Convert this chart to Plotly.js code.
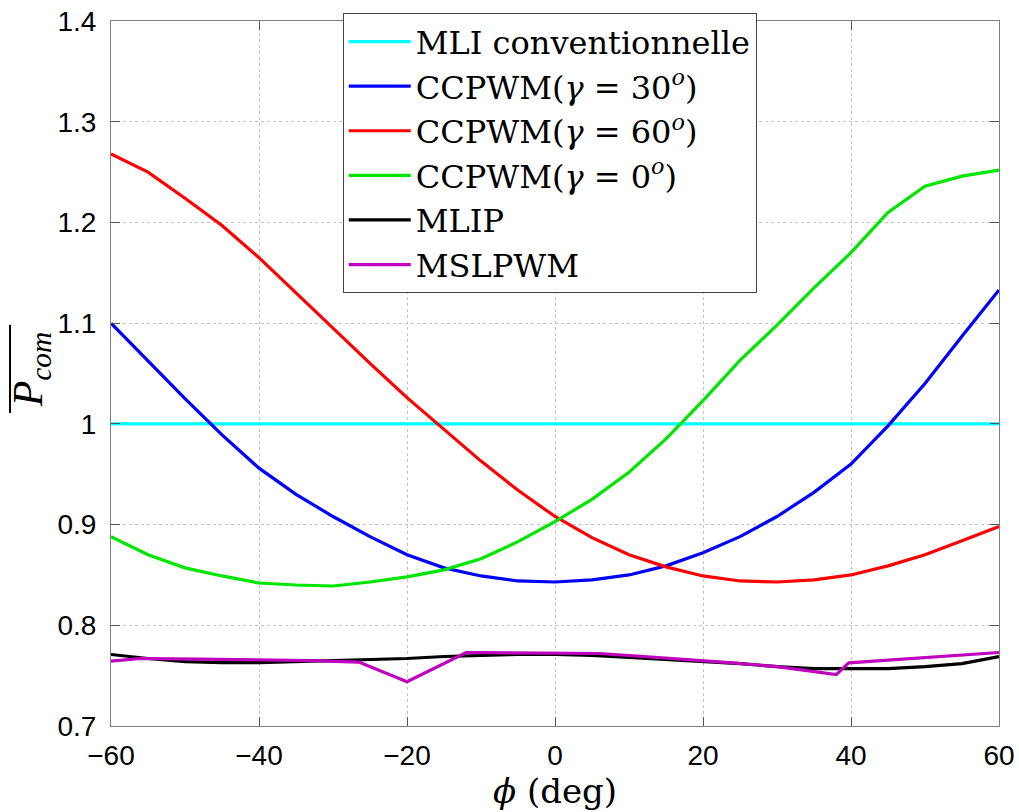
<!DOCTYPE html>
<html>
<head>
<meta charset="utf-8">
<script src="https://cdn.plot.ly/plotly-3.0.1.min.js"></script>
<style>html,body{margin:0;padding:0;background:#fff}#chart{width:1019px;height:812px}</style>
</head>
<body>
<div id="chart"></div>
<script>
// phi (deg) sample grid for smooth curves
const phi = [-60,-55,-50,-45,-40,-35,-30,-25,-20,-15,-10,-5,0,5,10,15,20,25,30,35,40,45,50,55,60];
const mliConv = [1,1,1,1,1,1,1,1,1,1,1,1,1,1,1,1,1,1,1,1,1,1,1,1,1];
const ccpwm30 = [1.100,1.062,1.025,0.989,0.956,0.930,0.908,0.888,0.870,0.857,0.849,0.844,0.843,0.845,0.850,0.859,0.872,0.888,0.908,0.932,0.960,0.998,1.040,1.087,1.133];
const ccpwm60 = [1.268,1.250,1.224,1.197,1.165,1.130,1.094,1.060,1.026,0.994,0.963,0.934,0.908,0.887,0.870,0.858,0.849,0.844,0.843,0.845,0.850,0.859,0.870,0.884,0.898];
const ccpwm0  = [0.888,0.870,0.857,0.849,0.842,0.840,0.839,0.843,0.848,0.855,0.866,0.883,0.903,0.925,0.952,0.985,1.023,1.063,1.098,1.135,1.170,1.210,1.236,1.246,1.252];
const mlip    = [0.771,0.767,0.764,0.763,0.763,0.764,0.765,0.766,0.767,0.769,0.770,0.771,0.771,0.770,0.768,0.766,0.764,0.762,0.759,0.757,0.757,0.757,0.759,0.762,0.769];
// MSLPWM sampled on its own grid
const phiMsl  = [-60,-56,-48,-40,-33,-26.5,-20,-12,-6,0,6,12,18,24,30,38,39.7,46,53,60];
const mslpwm  = [0.7645,0.767,0.7665,0.766,0.765,0.7635,0.744,0.773,0.7728,0.7725,0.772,0.769,0.766,0.7627,0.759,0.751,0.7627,0.766,0.769,0.773];

const names = ['MLI conventionnelle','CCPWM(<i>γ</i> = 30<sup><i>o</i></sup>)','CCPWM(<i>γ</i> = 60<sup><i>o</i></sup>)','CCPWM(<i>γ</i> = 0<sup><i>o</i></sup>)','MLIP','MSLPWM'];
const colors = ['#00ffff','#0000ff','#ff0000','#00e600','#000000','#bf00bf'];
const xs = [phi,phi,phi,phi,phi,phiMsl];
const ys = [mliConv,ccpwm30,ccpwm60,ccpwm0,mlip,mslpwm];

const traces = names.map((n,i)=>({
  x: xs[i], y: ys[i], name: n, type:'scatter', mode:'lines',
  line:{color:colors[i], width:3.2}
}));

const serif = 'DejaVu Serif, Liberation Serif, serif';
const lserif = 'Liberation Serif, DejaVu Serif, serif';
const sans = 'Liberation Sans, Arial, sans-serif';

const layout = {
  width:1019, height:812,
  margin:{l:111, r:20, t:21, b:86},
  paper_bgcolor:'#fff', plot_bgcolor:'#fff',
  showlegend:true,
  legend:{x:0.261, y:1.011, xanchor:'left', yanchor:'top', itemwidth:62,
    bgcolor:'#fff', bordercolor:'#444', borderwidth:1,
    font:{family:serif, size:32, color:'#000'}, tracegroupgap:0},
  xaxis:{range:[-60,60], dtick:20, tick0:-60,
    showgrid:true, gridcolor:'#c4c4c4', griddash:'dot', gridwidth:1,
    zeroline:false, showline:true, linecolor:'#808080', linewidth:1, mirror:'ticks',
    ticks:'inside', ticklen:9, tickcolor:'#555',
    tickfont:{family:sans, size:28, color:'#000'}, ticklabelstandoff:4,
    title:{text:'<i>ϕ</i> (deg)', font:{family:serif, size:34, color:'#000'}, standoff:0}},
  yaxis:{range:[0.7,1.4], dtick:0.1, tick0:0.7,
    showgrid:true, gridcolor:'#c4c4c4', griddash:'dot', gridwidth:1,
    zeroline:false, showline:true, linecolor:'#808080', linewidth:1, mirror:'ticks',
    ticks:'inside', ticklen:9, tickcolor:'#555',
    tickfont:{family:sans, size:28, color:'#000'}, ticklabelstandoff:8,
    tickformat:'~g'},
  annotations:[{xref:'paper', yref:'paper', x:-0.09, y:0.506, xanchor:'center', yanchor:'middle',
    text:'<i>P<sub>com</sub></i>', textangle:-90, showarrow:false,
    font:{family:lserif, size:42, color:'#000'}}],
  shapes:[{type:'line', xref:'paper', yref:'paper', x0:-0.1137, x1:-0.1137, y0:0.444, y1:0.569,
    line:{color:'#000', width:2}}]
};

Plotly.newPlot('chart', traces, layout, {displayModeBar:false, staticPlot:true});
</script>
</body>
</html>
